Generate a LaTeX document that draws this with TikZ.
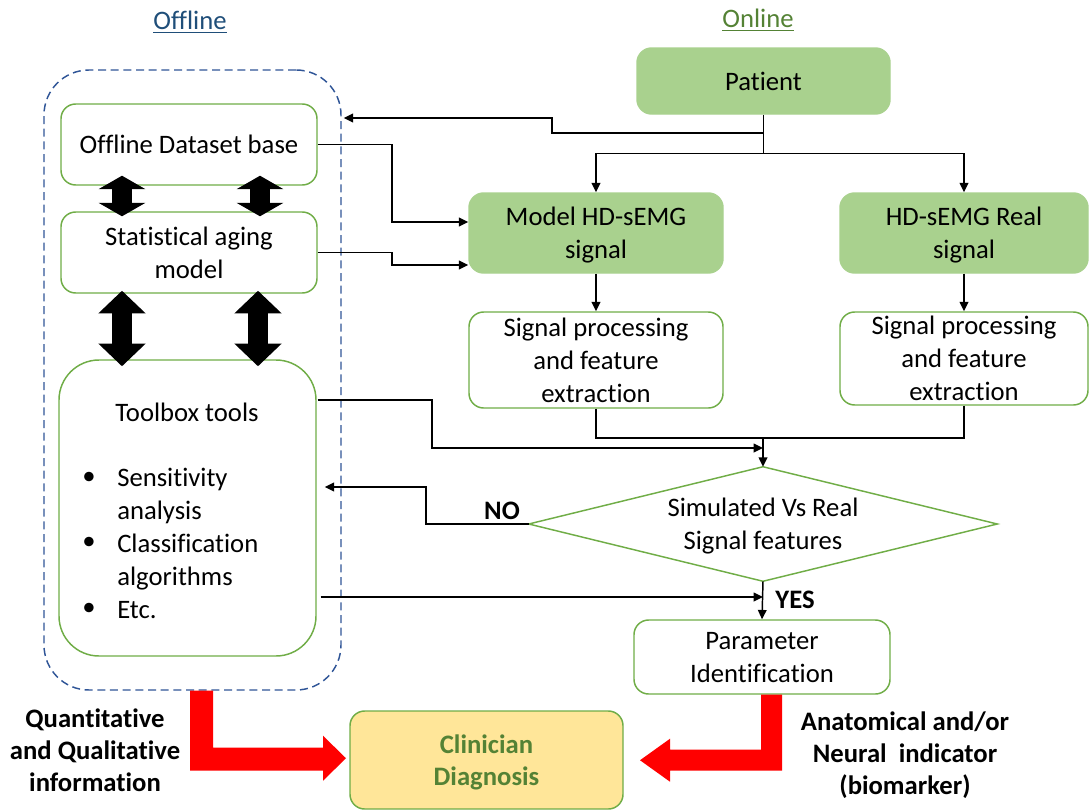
\documentclass[tikz,border=0pt]{standalone}
\usepackage{fontspec}
\setmainfont[Ligatures=NoCommon]{Carlito}
\usetikzlibrary{arrows.meta,calc}
\definecolor{gfill}{HTML}{A9D18E}
\definecolor{gline}{HTML}{70AD47}
\definecolor{dblue}{HTML}{2F5597}
\definecolor{ttblue}{HTML}{1F4E79}
\definecolor{tgreen}{HTML}{548235}
\definecolor{yfill}{HTML}{FFE699}
\definecolor{redarr}{HTML}{FF0000}
\begin{document}
\begin{tikzpicture}[x=0.75pt,y=-0.75pt,
 font=\fontsize{20}{24.75}\selectfont,
 box/.style={draw=gline, fill=white, line width=1.1pt, rounded corners=11pt, align=center, inner sep=0pt, text depth=0pt},
 gbox/.style={box, fill=gfill, draw=gfill},
 conn/.style={line width=1.1pt, -{Triangle[length=7pt,width=6.5pt]}},
 plain/.style={line width=1.1pt},
 dblsmall/.style={line width=15pt, {Triangle[length=10pt,width=34.5pt]}-{Triangle[length=10pt,width=34.5pt]}},
 dblbig/.style={line width=15pt, {Triangle[length=17pt,width=34.5pt]}-{Triangle[length=17pt,width=34.5pt]}},
 bold/.style={font=\fontsize{20}{24}\selectfont\bfseries, align=center},
 redarrow/.style={fill=redarr, draw=none}
]
\useasboundingbox (0,0) rectangle (1089,810);

% titles
\node[text=ttblue] (toff) at (190,22) {\underline{Offline}};
\node[text=tgreen] (ton) at (758,20) {\underline{Online}};

% offline group
\node[draw=dblue, dash pattern=on 6pt off 3.5pt, line width=1.1pt, rounded corners=33.75pt, minimum width=222.75pt, minimum height=465pt] (dash) at (192.5,380) {};
\node[box, minimum width=192pt, minimum height=60.75pt] (db) at (189,144.5) {Offline Dataset base};
\node[box, minimum width=192pt, minimum height=60.75pt] (stat) at (189,252.5) {Statistical aging\\model};
\node[box, rounded corners=30pt, minimum width=192.75pt, minimum height=222pt] (tool) at (187.5,508) {};
\node (ttitle) at (187,412) {Toolbox tools};
\node[anchor=west, align=left, inner sep=0pt] (tlist) at (117,543) {Sensitivity\\analysis\\Classification\\algorithms\\Etc.};
\node (b1) at (89,478) {•};
\node (b2) at (89,543) {•};
\node (b3) at (89,609) {•};

% double arrows
\draw[dblsmall] ($(db.south -| 122,0)+(0,-10)$) -- ($(stat.north -| 122,0)+(0,5)$);
\draw[dblsmall] ($(db.south -| 260,0)+(0,-10)$) -- ($(stat.north -| 260,0)+(0,5)$);
\draw[dblbig] ($(stat.south -| 122,0)+(0,-3)$) -- ($(tool.north -| 122,0)+(0,7)$);
\draw[dblbig] ($(stat.south -| 258,0)+(0,-3)$) -- ($(tool.north -| 258,0)+(0,7)$);

% online
\node[gbox, minimum width=189.75pt, minimum height=49.5pt] (patient) at (763.5,81) {Patient};
\node[gbox, minimum width=190.5pt, minimum height=60pt] (model) at (596,233) {Model HD-sEMG\\signal};
\node[gbox, minimum width=186pt, minimum height=60pt] (real) at (964,233) {HD-sEMG Real\\signal};
\node[box, minimum width=190.5pt, minimum height=72pt] (sp1) at (596,360) {Signal processing\\and feature\\extraction};
\node[box, minimum width=186pt, minimum height=69.75pt] (sp2) at (964,358.5) {Signal processing\\and feature\\extraction};
\node[minimum width=351pt, minimum height=85.5pt, inner sep=0pt] (dia) at (763,524) {};
\draw[draw=gline, line width=1.1pt] (dia.west) -- (dia.north) -- (dia.east) -- (dia.south) -- cycle;
\node[align=center] (diatext) at (763,526) {Simulated Vs Real\\Signal features};
\node[box, minimum width=192pt, minimum height=55.5pt] (param) at (762,657) {Parameter\\Identification};
\node[box, fill=yfill, minimum width=204.75pt, minimum height=73.5pt, text=tgreen, font=\fontsize{20}{24.5}\selectfont\bfseries] (clin) at (486.5,760) {Clinician\\Diagnosis};

% connectors
\draw[plain] (patient.south) -- ($(patient.south)+(0,39)$) coordinate (pb);
\draw[conn] (pb) -| (model.north);
\draw[conn] (pb) -| (real.north);
\draw[conn] (patient.south |- 0,133) -- (552,133) -- (552,118) -- ($(dash.east |- 0,118)+(2,0)$);
\draw[conn] (db.east) -| (392,222) -- ($(model.west)+(0,-11)$);
\draw[conn] (stat.east) -| (392,265) -- ($(model.west)+(0,32)$);
\draw[conn] (model.south) -- (sp1.north);
\draw[conn] (real.south) -- (sp2.north);
\draw[plain] (sp1.south) |- (dia.north |- 0,438);
\draw[plain] (sp2.south) |- (dia.north |- 0,438);
\draw[conn] (dia.north |- 0,438) -- (dia.north);
\draw[conn] ($(tool.east |- 0,400)+(1,0)$) -| (432,448) -- (dia.north |- 0,448);
\draw[conn] (dia.west) -| (426,487) -- ($(tool.east |- 0,487)+(8,0)$);
\draw[conn] ($(tool.east |- 0,597)+(4,0)$) -- (dia.south |- 0,597);
\draw[conn] (dia.south) -- (param.north);
\node[bold] (no) at (502,511) {NO};
\node[bold] (yes) at (795,600) {YES};

% red arrows
\fill[redarrow] (dash.south) ++(-2.5,0) -- ++(23,0) -- ++(0,57) -- ++(110,0) -- ++(0,-12) -- ++(23,22.5) -- ++(-23,22.5) -- ++(0,-10) -- ++(-133,0) -- cycle;
\fill[redarrow] (param.south) ++(20,0) -- ++(-21,0) -- ++(0,55) -- ++(-91,0) -- ++(0,-11) -- ++(-30,21.5) -- ++(30,21.5) -- ++(0,-11) -- ++(112,0) -- cycle;

\node[bold] (lq) at (95,750) {Quantitative\\and Qualitative\\information};
\node[bold] (la) at (905,755) {Anatomical and/or\\Neural\ \ indicator\\(biomarker)};
\end{tikzpicture}
\end{document}
